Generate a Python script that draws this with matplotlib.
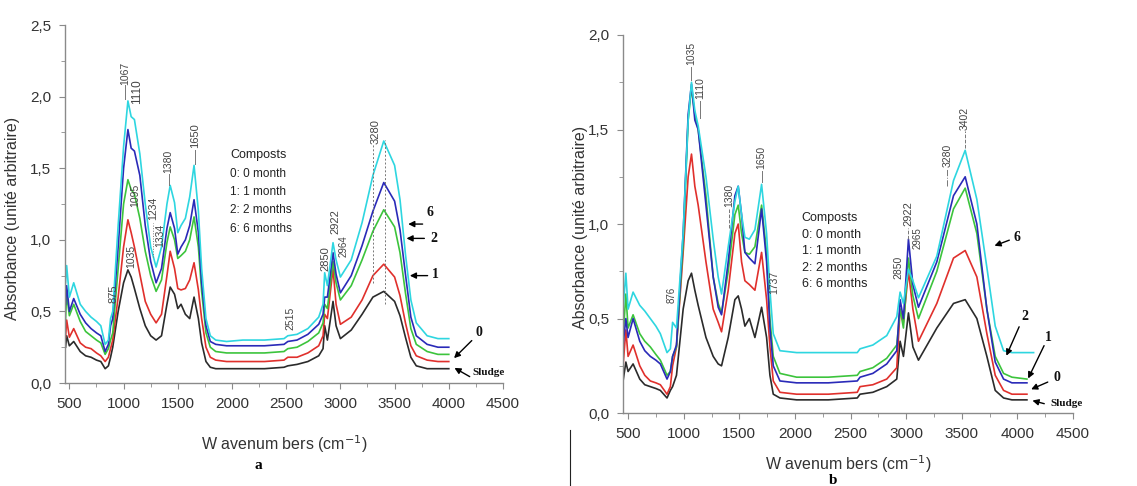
#!/usr/bin/env python3

import numpy
import matplotlib
matplotlib.use('Agg')
import matplotlib.pyplot as plt
from matplotlib.lines import Line2D
from matplotlib.ticker import MultipleLocator, FuncFormatter

nan = float('nan')

# ---- Panel a (wavenumber grid shared by all spectra) ----
wn_a = [465, 475, 500, 540, 600, 650, 700, 750, 790, 830, 860, 880, 900, 950, 1000,
        1040, 1070, 1100, 1150, 1200, 1250, 1300, 1350, 1400, 1430, 1470, 1500, 1530,
        1570, 1610, 1650, 1690, 1720, 1760, 1800, 1850, 1950, 2100, 2300, 2480, 2515,
        2600, 2700, 2800, 2840, 2855, 2880, 2932, 2960, 3000, 3100, 3200, 3300, 3400,
        3500, 3550, 3600, 3650, 3700, 3800, 3900, 4000]

a_6months = [0.70, 0.82, 0.60, 0.70, 0.55, 0.50, 0.46, 0.43, 0.40, 0.27, 0.30, 0.45, 0.50, 1.10, 1.65,
             1.97, 1.86, 1.84, 1.60, 1.25, 0.95, 0.81, 0.95, 1.25, 1.38, 1.26, 1.05, 1.10,
             1.15, 1.30, 1.52, 1.20, 0.80, 0.45, 0.33, 0.30, 0.29, 0.30, 0.30, 0.31, 0.33,
             0.34, 0.38, 0.46, 0.55, 0.77, 0.68, 0.98, 0.86, 0.74, 0.86, 1.12, 1.45, 1.69,
             1.52, 1.28, 0.90, 0.58, 0.42, 0.33, 0.31, 0.31]
a_2months = [0.55, 0.68, 0.50, 0.59, 0.48, 0.42, 0.38, 0.35, 0.33, 0.22, 0.27, 0.40, 0.45, 0.95, 1.50,
             1.77, 1.64, 1.62, 1.45, 1.10, 0.85, 0.70, 0.80, 1.08, 1.19, 1.08, 0.90, 0.95,
             1.00, 1.10, 1.28, 1.05, 0.70, 0.40, 0.29, 0.27, 0.26, 0.26, 0.26, 0.27, 0.29,
             0.30, 0.34, 0.41, 0.48, 0.60, 0.60, 0.91, 0.76, 0.63, 0.75, 0.96, 1.20, 1.40,
             1.27, 1.07, 0.76, 0.46, 0.33, 0.27, 0.25, 0.25]
a_1month = [0.45, 0.62, 0.47, 0.55, 0.43, 0.36, 0.33, 0.30, 0.28, 0.20, 0.24, 0.30, 0.35, 0.80, 1.25,
            1.42, 1.35, 1.32, 1.15, 0.92, 0.75, 0.64, 0.72, 0.98, 1.09, 1.00, 0.87, 0.89,
            0.92, 1.00, 1.16, 0.95, 0.64, 0.35, 0.25, 0.22, 0.21, 0.21, 0.21, 0.22, 0.24,
            0.25, 0.29, 0.35, 0.42, 0.55, 0.52, 0.85, 0.70, 0.58, 0.68, 0.86, 1.06, 1.21,
            1.09, 0.91, 0.63, 0.38, 0.27, 0.22, 0.20, 0.20]
a_0month = [0.32, 0.44, 0.32, 0.38, 0.28, 0.25, 0.24, 0.21, 0.19, 0.15, 0.18, 0.24, 0.30, 0.60, 0.95,
            1.14, 1.05, 0.95, 0.76, 0.57, 0.48, 0.42, 0.48, 0.75, 0.92, 0.80, 0.66, 0.65,
            0.66, 0.72, 0.84, 0.65, 0.45, 0.25, 0.18, 0.16, 0.15, 0.15, 0.15, 0.16, 0.18,
            0.18, 0.21, 0.26, 0.33, 0.48, 0.45, 0.80, 0.55, 0.41, 0.46, 0.58, 0.75, 0.83,
            0.74, 0.61, 0.42, 0.26, 0.19, 0.16, 0.15, 0.15]
a_sludge = [0.25, 0.33, 0.26, 0.29, 0.22, 0.19, 0.18, 0.16, 0.15, 0.10, 0.12, 0.18, 0.25, 0.50, 0.70,
            0.79, 0.74, 0.66, 0.52, 0.40, 0.33, 0.30, 0.33, 0.55, 0.67, 0.62, 0.52, 0.55,
            0.48, 0.45, 0.60, 0.45, 0.28, 0.15, 0.11, 0.10, 0.10, 0.10, 0.10, 0.11, 0.12,
            0.13, 0.15, 0.19, 0.24, 0.40, 0.30, 0.57, 0.40, 0.31, 0.37, 0.48, 0.60, 0.64,
            0.57, 0.47, 0.32, 0.18, 0.12, 0.10, 0.10, 0.10]

# ---- Panel b ----
wn_b = [455, 480, 500, 545, 605, 650, 700, 750, 790, 850, 880, 900, 935, 995,
        1040, 1070, 1100, 1130, 1200, 1265, 1310, 1340, 1400, 1460, 1490, 1520, 1550, 1590,
        1640, 1700, 1745, 1775, 1805, 1865, 2015, 2300, 2560, 2585, 2700, 2825, 2915, 2945,
        2975, 3020, 3060, 3110, 3275, 3425, 3530, 3635, 3725, 3800, 3875, 3950, 4085, 4145]

b_6months = [0.55, 0.74, 0.55, 0.64, 0.57, 0.54, 0.50, 0.46, 0.42, 0.32, 0.34, 0.48, 0.45, 0.95,
             1.55, 1.75, 1.60, 1.52, 1.25, 0.92, 0.72, 0.63, 0.88, 1.12, 1.20, 1.05, 0.93, 0.92,
             0.97, 1.21, 0.95, 0.65, 0.42, 0.33, 0.32, 0.32, 0.32, 0.34, 0.36, 0.41, 0.51, 0.64,
             0.58, 0.76, 0.70, 0.61, 0.83, 1.23, 1.39, 1.13, 0.77, 0.46, 0.33, 0.32, 0.32, 0.32]
b_2months = [0.36, 0.50, 0.40, 0.50, 0.38, 0.33, 0.30, 0.28, 0.26, 0.18, 0.22, 0.30, 0.36, 0.95,
             1.58, 1.74, 1.55, 1.50, 1.10, 0.72, 0.56, 0.52, 0.80, 1.15, 1.20, 1.05, 0.85, 0.82,
             0.79, 1.08, 0.80, 0.45, 0.25, 0.17, 0.16, 0.16, 0.17, 0.19, 0.21, 0.26, 0.33, 0.60,
             0.50, 0.92, 0.68, 0.56, 0.80, 1.15, 1.25, 1.00, 0.55, 0.27, 0.18, 0.16, 0.16, nan]
b_1month = [0.40, 0.63, 0.45, 0.52, 0.42, 0.38, 0.35, 0.31, 0.28, 0.20, 0.22, 0.30, 0.35, 0.90,
            1.55, 1.72, 1.58, 1.50, 1.15, 0.72, 0.58, 0.53, 0.75, 1.05, 1.10, 0.95, 0.85, 0.84,
            0.88, 1.10, 0.85, 0.50, 0.30, 0.21, 0.19, 0.19, 0.20, 0.22, 0.24, 0.29, 0.36, 0.55,
            0.45, 0.82, 0.62, 0.50, 0.75, 1.08, 1.19, 0.95, 0.55, 0.30, 0.21, 0.19, 0.18, nan]
b_0month = [0.25, 0.44, 0.30, 0.36, 0.25, 0.20, 0.17, 0.16, 0.15, 0.10, 0.14, 0.25, 0.35, 0.85,
            1.25, 1.37, 1.20, 1.10, 0.80, 0.55, 0.48, 0.43, 0.65, 0.95, 1.00, 0.80, 0.70, 0.68,
            0.65, 0.85, 0.60, 0.35, 0.17, 0.11, 0.10, 0.10, 0.11, 0.14, 0.15, 0.18, 0.24, 0.55,
            0.48, 0.75, 0.55, 0.38, 0.58, 0.82, 0.86, 0.72, 0.42, 0.20, 0.12, 0.10, 0.10, nan]
b_sludge = [0.17, 0.27, 0.22, 0.26, 0.18, 0.15, 0.14, 0.13, 0.12, 0.08, 0.12, 0.14, 0.20, 0.55,
            0.70, 0.74, 0.65, 0.57, 0.40, 0.30, 0.26, 0.25, 0.40, 0.60, 0.62, 0.55, 0.46, 0.50,
            0.40, 0.56, 0.40, 0.20, 0.10, 0.08, 0.07, 0.07, 0.08, 0.10, 0.11, 0.14, 0.18, 0.38,
            0.30, 0.53, 0.35, 0.28, 0.45, 0.58, 0.60, 0.50, 0.30, 0.12, 0.08, 0.07, 0.07, nan]

legend_lines = ["Composts", "0: 0 month", "1: 1 month", "2: 2 months", "6: 6 months"]

# colours of the series, bottom to top
COLORS = {'sludge': '#2b2b2b', '0': '#e0302c', '1': '#3cc43c', '2': '#2a2ab8', '6': '#2ed6e0'}

FONT = 'Liberation Sans'
plt.rcParams['font.family'] = [FONT, 'DejaVu Sans']


def comma(v, pos):
    return ('%.1f' % v).replace('.', ',')


def setup_axes(ax, xlim, ylim, ystep):
    ax.set_xlim(*xlim)
    ax.set_ylim(*ylim)
    for side in ['top', 'right']:
        ax.spines[side].set_visible(False)
    for side in ['left', 'bottom']:
        ax.spines[side].set_color('#8a8a8a')
        ax.spines[side].set_linewidth(1.0)
    ax.xaxis.set_major_locator(MultipleLocator(500))
    ax.xaxis.set_minor_locator(MultipleLocator(250))
    ax.yaxis.set_major_locator(MultipleLocator(ystep))
    ax.yaxis.set_minor_locator(MultipleLocator(ystep / 2))
    ax.yaxis.set_major_formatter(FuncFormatter(comma))
    ax.tick_params(which='both', direction='out', color='#8a8a8a', labelsize=11,
                   labelcolor='#333333')
    ax.tick_params(which='major', length=4, pad=6)
    ax.tick_params(which='minor', length=3)


def peak_label(ax, text, x, y, size=7.5, line=None, ls='-'):
    ax.text(x, y, text, rotation=90, ha='center', va='bottom', fontsize=size, color='#444444')
    if line is not None:
        ax.plot([x, x], line, color='#777777', lw=0.7, ls=ls)


def arrow(ax, label, tail, head, txt, size=10):
    ax.annotate('', xy=head, xytext=tail,
                arrowprops=dict(arrowstyle='-|>', color='black', lw=1.0, mutation_scale=9))
    ax.text(txt[0], txt[1], label, fontsize=size, fontweight='bold', family='Liberation Serif',
            ha='center', va='center', color='#111111')


def create_plot():
    fig = plt.figure(figsize=(11.37, 4.86), dpi=100)

    # ---------- Panel a ----------
    ax = fig.add_axes([0.0572, 0.2119, 0.3852, 0.7366])
    setup_axes(ax, (460, 4500), (0, 2.5), 0.5)
    for key, values in [('sludge', a_sludge), ('0', a_0month), ('1', a_1month),
                        ('2', a_2months), ('6', a_6months)]:
        ax.plot(wn_a, values, color=COLORS[key], lw=1.2)

    ax.set_xlabel('W avenum bers (cm$^{-1}$)', fontsize=11.5, color='#333333')
    ax.xaxis.set_label_coords(0.5, -0.14)
    ax.set_ylabel('Absorbance (unité arbitraire)', fontsize=11.5, color='#333333')
    ax.yaxis.set_label_coords(-0.103, 0.46)

    peak_label(ax, '1067', 1017, 2.08, line=(1.98, 2.08))
    peak_label(ax, '1110', 1124, 1.95, size=8.5)
    peak_label(ax, '1095', 1109, 1.23)
    peak_label(ax, '1035', 1069, 0.80)
    peak_label(ax, '1234', 1272, 1.14, line=(0.88, 1.12), ls=':')
    peak_label(ax, '1334', 1340, 0.95)
    peak_label(ax, '1380', 1416, 1.47, line=(1.38, 1.46))
    peak_label(ax, '1650', 1656, 1.64, size=8, line=(1.53, 1.63))
    peak_label(ax, '875', 903, 0.56, size=8)
    peak_label(ax, '2515', 2539, 0.37)
    peak_label(ax, '2850', 2862, 0.78, size=8)
    peak_label(ax, '2922', 2954, 1.04, size=8)
    peak_label(ax, '2964', 3031, 0.88, size=7)
    peak_label(ax, '3280', 3323, 1.67, size=8)
    ax.plot([3301, 3301], [0.70, 1.67], color='#777777', lw=0.7, ls=(0, (2, 2)))
    ax.plot([3409, 3409], [0.55, 1.70], color='#777777', lw=0.7, ls=(0, (2, 2)))

    for i, line in enumerate(legend_lines):
        ax.text(1985, 1.59 - i * 0.128, line, fontsize=8.5 if i else 9, color='#222222',
                va='center', ha='left')

    arrow(ax, '6', (3784, 1.11), (3600, 1.11), (3830, 1.19))
    arrow(ax, '2', (3800, 1.01), (3584, 1.01), (3860, 1.01))
    arrow(ax, '1', (3830, 0.75), (3615, 0.75), (3880, 0.76))
    arrow(ax, '0', (4230, 0.31), (4030, 0.16), (4276, 0.35))
    arrow(ax, 'Sludge', (4215, 0.035), (4030, 0.115), (4370, 0.07), size=8)

    # ---------- Panel b ----------
    ax = fig.add_axes([0.548, 0.150, 0.3958, 0.778])
    setup_axes(ax, (455, 4500), (0, 2.0), 0.5)
    for key, values in [('sludge', b_sludge), ('0', b_0month), ('1', b_1month),
                        ('2', b_2months), ('6', b_6months)]:
        ax.plot(wn_b, values, color=COLORS[key], lw=1.2)

    ax.set_xlabel('W avenum bers (cm$^{-1}$)', fontsize=11.5, color='#333333')
    ax.xaxis.set_label_coords(0.5, -0.105)
    ax.set_ylabel('Absorbance (unité arbitraire)', fontsize=11.5, color='#333333')
    ax.yaxis.set_label_coords(-0.078, 0.49)

    peak_label(ax, '1035', 1070, 1.84, line=(1.76, 1.83))
    peak_label(ax, '1110', 1145, 1.66, line=(1.56, 1.65))
    peak_label(ax, '1380', 1409, 1.09, line=(0.98, 1.08), ls='--')
    peak_label(ax, '1650', 1700, 1.29, line=(1.22, 1.28))
    peak_label(ax, '876', 890, 0.58, size=7)
    peak_label(ax, '1737', 1811, 0.63)
    peak_label(ax, '2850', 2930, 0.71)
    peak_label(ax, '2922', 3020, 0.99, size=8, line=(0.92, 0.98), ls='--')
    peak_label(ax, '2965', 3104, 0.87, size=7)
    peak_label(ax, '3280', 3371, 1.30, line=(1.20, 1.29), ls='-.')
    peak_label(ax, '3402', 3524, 1.50, line=(1.40, 1.49), ls='--')

    for i, line in enumerate(legend_lines):
        ax.text(2060, 1.03 - i * 0.087, line, fontsize=9, color='#222222',
                va='center', ha='left')

    arrow(ax, '6', (3950, 0.92), (3770, 0.88), (3995, 0.93))
    arrow(ax, '2', (4025, 0.47), (3890, 0.29), (4070, 0.51))
    arrow(ax, '1', (4250, 0.37), (4085, 0.17), (4280, 0.40))
    arrow(ax, '0', (4295, 0.17), (4100, 0.12), (4355, 0.19))
    arrow(ax, 'Sludge', (4265, 0.046), (4110, 0.07), (4440, 0.05), size=8)

    # panel letters and separator
    fig.text(0.227, 0.043, 'a', fontsize=11, fontweight='bold', family='Liberation Serif',
             ha='center', va='center')
    fig.text(0.733, 0.012, 'b', fontsize=11, fontweight='bold', family='Liberation Serif',
             ha='center', va='center')
    fig.add_artist(Line2D([0.5013, 0.5013], [0.0, 0.115], color='#222222', lw=0.8))

    return fig


if __name__ == '__main__':
    fig = create_plot()
    fig.savefig('out.png', dpi=100)
